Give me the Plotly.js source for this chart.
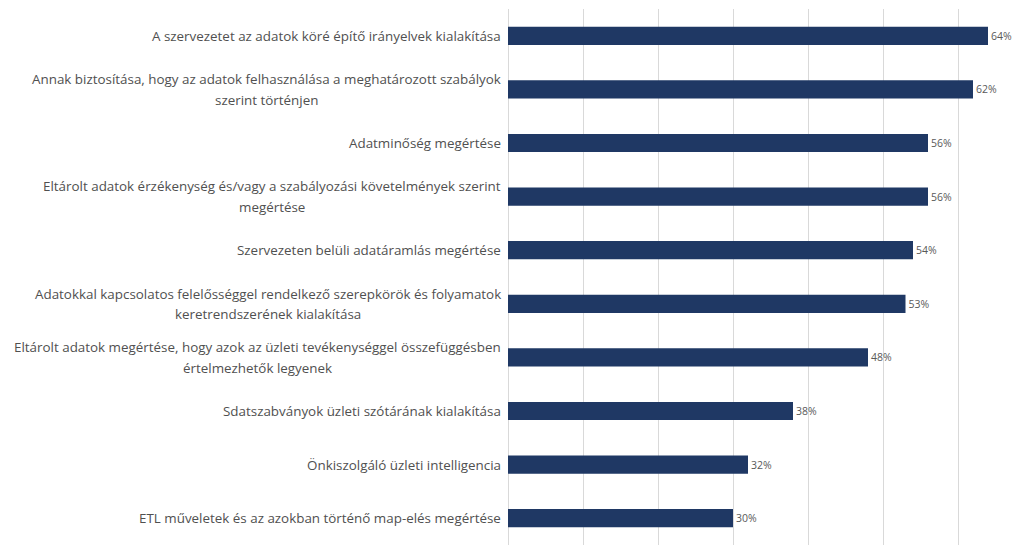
<!DOCTYPE html>
<html><head><meta charset="utf-8">
<script src="https://cdn.plot.ly/plotly-3.0.1.min.js"></script>
<style>html,body{margin:0;padding:0;background:#fff}#chart{width:1018px;height:545px}</style>
</head><body><div id="chart"></div>
<script>
const categories = [
  "A szervezetet az adatok köré építő irányelvek kialakítása",
  "Annak biztosítása, hogy az adatok felhasználása a meghatározott szabályok<br>szerint történjen",
  "Adatminőség megértése",
  "Eltárolt adatok érzékenység és/vagy a szabályozási követelmények szerint<br>megértése",
  "Szervezeten belüli adatáramlás megértése",
  "Adatokkal kapcsolatos felelősséggel rendelkező szerepkörök és folyamatok<br>keretrendszerének kialakítása",
  "Eltárolt adatok megértése, hogy azok az üzleti tevékenységgel összefüggésben<br>értelmezhetők legyenek",
  "Sdatszabványok üzleti szótárának kialakítása",
  "Önkiszolgáló üzleti intelligencia",
  "ETL műveletek és az azokban történő map-elés megértése"
];
const values = [64, 62, 56, 56, 54, 53, 48, 38, 32, 30];

const trace = {
  type: 'bar', orientation: 'h',
  x: values, y: categories,
  marker: {color: '#1F3864'},
  text: values.map(v => v + '%'),
  textposition: 'outside',
  textfont: {family: '"Open Sans", sans-serif', size: 10.5, color: '#595959'},
  cliponaxis: false,
  hoverinfo: 'none'
};

// Category labels: right-aligned block, lines centred within it, wider line spacing
const annotations = [];
const lineGap = 20.5;
const measure = document.createElement('canvas').getContext('2d');
const labelFont = {family: '"Open Sans", sans-serif', size: 13.4, color: '#505050'};
measure.font = '13.4px "Open Sans"';
categories.forEach(c => {
  const lines = c.split('<br>');
  const widths = lines.map(l => measure.measureText(l).width);
  const maxW = Math.max(...widths);
  lines.forEach((l, i) => {
    const off = (i - (lines.length - 1) / 2) * lineGap;
    annotations.push({
      xref: 'paper', yref: 'y', x: 0, y: c,
      xanchor: 'center', yanchor: 'middle',
      xshift: -7 - maxW / 2, yshift: -off,
      text: l, showarrow: false,
      font: labelFont
    });
  });
});

const layout = {
  width: 1018, height: 545,
  margin: {l: 508, r: 0, t: 9, b: 0},
  paper_bgcolor: '#fff', plot_bgcolor: '#fff',
  showlegend: false,
  bargap: 0.66,
  xaxis: {range: [0, 68], showticklabels: false, showgrid: true, gridcolor: '#D9D9D9', gridwidth: 1,
          dtick: 10, tick0: 0, zeroline: true, zerolinecolor: '#D9D9D9', zerolinewidth: 1, fixedrange: true},
  yaxis: {autorange: 'reversed', showticklabels: false, showgrid: false, zeroline: false, ticks: '', fixedrange: true},
  annotations: annotations
};

document.fonts.load('13.4px "Open Sans"').then(() => {
  Plotly.newPlot('chart', [trace], layout, {displayModeBar: false, staticPlot: true});
});
</script></body></html>
